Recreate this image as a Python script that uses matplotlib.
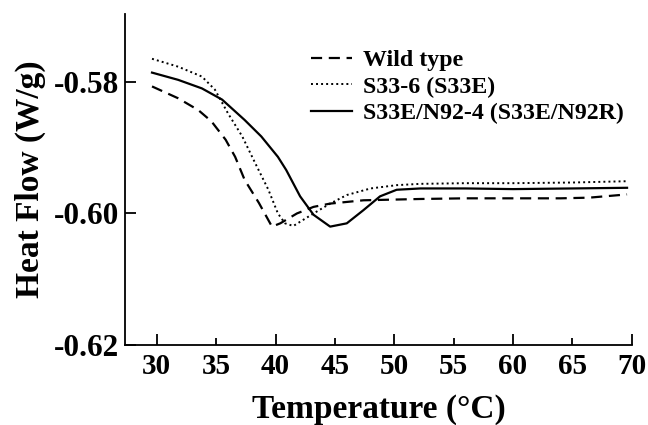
import numpy as np
import matplotlib.pyplot as plt

plt.rcParams.update({
    'font.family': 'serif',
    'font.serif': ['Liberation Serif', 'DejaVu Serif'],
    'font.weight': 'bold',
    'axes.unicode_minus': False,
})

# ================= Data =================
wt_temp = [29.6, 31.8, 33.5, 34.6, 35.8, 36.6, 37.4, 38.6, 39.7, 40.4, 41.8, 43.2,
           44.6, 47.4, 52.2, 56.0, 60.0, 64.0, 66.4, 69.0, 69.6]
wt_heat = [-0.5807, -0.5825, -0.5843, -0.5860, -0.5888, -0.5914, -0.5949, -0.5984,
           -0.6020, -0.6015, -0.6000, -0.5990, -0.5985, -0.5980, -0.5978, -0.5977,
           -0.5977, -0.5977, -0.5976, -0.5972, -0.5971]

s33_temp = [29.6, 31.8, 33.8, 34.9, 36.0, 37.2, 38.3, 39.4, 40.2, 40.8, 41.5, 43.2,
            44.6, 46.0, 48.0, 50.2, 52.2, 56.0, 60.0, 65.0, 69.6]
s33_heat = [-0.5765, -0.5777, -0.5792, -0.5812, -0.5848, -0.5883, -0.5924, -0.5964,
            -0.6000, -0.6015, -0.6019, -0.6000, -0.5985, -0.5972, -0.5962, -0.5957,
            -0.5955, -0.5954, -0.5954, -0.5953, -0.5951]

n92_temp = [29.6, 31.8, 33.8, 35.5, 37.4, 38.8, 40.2, 40.9, 42.07, 43.2, 44.6, 46.0,
            47.4, 48.8, 50.2, 52.2, 56.0, 60.0, 65.0, 69.6]
n92_heat = [-0.5786, -0.5797, -0.5810, -0.5827, -0.5858, -0.5883, -0.5914, -0.5934,
            -0.5974, -0.6002, -0.6020, -0.6015, -0.5995, -0.5974, -0.5964, -0.5962,
            -0.5962, -0.5963, -0.5962, -0.5961]

x_major = [30, 40, 50, 60, 70]
x_minor = [35, 45, 55, 65]
y_ticks = [-0.62, -0.60, -0.58]
y_labels = ['-0.62', '-0.60', '-0.58']

labels = ['Wild type', 'S33-6 (S33E)', 'S33E/N92-4 (S33E/N92R)']
# ===============================================

fig = plt.figure(figsize=(6.48, 4.25), dpi=100)
ax = fig.add_axes([0.193, 0.188, 0.782, 0.779])

ax.plot(wt_temp, wt_heat, color='black', lw=1.6, ls=(0, (5, 3)), label=labels[0])
ax.plot(s33_temp, s33_heat, color='black', lw=1.4, ls=(0, (1, 1.6)), label=labels[1])
ax.plot(n92_temp, n92_heat, color='black', lw=1.6, ls='-', label=labels[2])

ax.set_xlim(27.33, 70)
ax.set_ylim(-0.62, -0.5697)

ax.set_xticks(x_major)
ax.set_xticklabels([str(v) for v in x_major])
ax.set_xticks(x_minor, minor=True)
ax.set_xticklabels([str(v) for v in x_minor], minor=True)
ax.set_yticks(y_ticks)
ax.set_yticklabels(y_labels)

ax.tick_params(axis='x', which='major', direction='in', length=8, width=1.3,
               labelsize=21, pad=6)
ax.tick_params(axis='x', which='minor', direction='in', length=5, width=1.3,
               labelsize=21, pad=6)
ax.tick_params(axis='y', direction='in', length=8, width=1.3, labelsize=22.5, pad=4)
for lab in ax.get_xticklabels(which='both') + ax.get_yticklabels():
    lab.set_fontweight('bold')

ax.spines['top'].set_visible(False)
ax.spines['right'].set_visible(False)
ax.spines['left'].set_linewidth(1.3)
ax.spines['bottom'].set_linewidth(1.3)

ax.set_xlabel('Temperature (\u00b0C)', fontsize=24, fontweight='bold', labelpad=10)
ax.set_ylabel('Heat Flow (W/g)', fontsize=24, fontweight='bold', labelpad=6)

leg = ax.legend(loc='upper left', bbox_to_anchor=(0.349, 0.922), frameon=False,
                prop={'family': 'serif', 'weight': 'bold', 'size': 17.2},
                handlelength=1.7, handletextpad=0.45, labelspacing=0.2,
                borderaxespad=0)

plt.savefig('out.png', dpi=100)
